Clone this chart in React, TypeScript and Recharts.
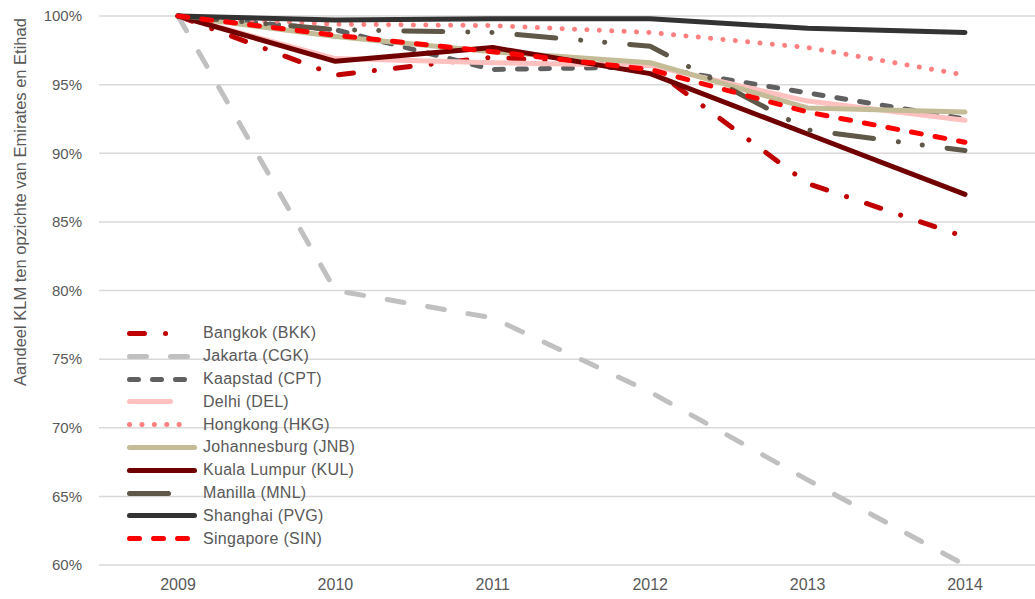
import React from 'react';
import { LineChart, Line, XAxis, YAxis, CartesianGrid } from 'recharts';

const years = ['2009', '2010', '2011', '2012', '2013', '2014'];
const yTicks = [60, 65, 70, 75, 80, 85, 90, 95, 100];

const bkk = [100, 95.7, 97.0, 96.3, 87.8, 83.9];
const cgk = [100, 80.0, 78.0, 72.6, 66.2, 60.0];
const cpt = [100, 99.0, 96.1, 96.3, 94.4, 92.5];
const del = [100, 96.9, 96.6, 96.4, 93.8, 92.4];
const hkg = [100, 99.4, 99.3, 98.8, 97.7, 95.7];
const jnb = [100, 98.5, 97.4, 96.6, 93.3, 93.0];
const kul = [100, 96.7, 97.7, 95.8, 91.4, 87.0];
const mnl = [100, 99.0, 98.8, 97.8, 91.7, 90.2];
const pvg = [100, 99.7, 99.8, 99.8, 99.1, 98.8];
const sin = [100, 98.6, 97.4, 96.1, 93.0, 90.8];

const seriesNames: Record<string, string> = {
  bkk: 'Bangkok (BKK)',
  cgk: 'Jakarta (CGK)',
  cpt: 'Kaapstad (CPT)',
  del: 'Delhi (DEL)',
  hkg: 'Hongkong (HKG)',
  jnb: 'Johannesburg (JNB)',
  kul: 'Kuala Lumpur (KUL)',
  mnl: 'Manilla (MNL)',
  pvg: 'Shanghai (PVG)',
  sin: 'Singapore (SIN)',
};

const seriesValues: Record<string, number[]> = { bkk, cgk, cpt, del, hkg, jnb, kul, mnl, pvg, sin };

const styles = [
  { key: 'bkk', color: '#c00000', dash: '15 21 0.1 21', width: 5, legendEnd: 173 },
  { key: 'cgk', color: '#c0c0c0', dash: '17 24', width: 5, legendEnd: 192 },
  { key: 'cpt', color: '#606060', dash: '9 14', width: 5, legendEnd: 190 },
  { key: 'del', color: '#ffc0c0', dash: undefined, width: 5, legendEnd: 173 },
  { key: 'hkg', color: '#ff8080', dash: '0.1 12.3', width: 5, legendEnd: 190 },
  { key: 'jnb', color: '#c4bc96', dash: undefined, width: 5, legendEnd: 197 },
  { key: 'kul', color: '#700000', dash: undefined, width: 5, legendEnd: 197 },
  { key: 'mnl', color: '#5f5747', dash: '39 25 0.1 24 0.1 25', width: 5, legendEnd: 173 },
  { key: 'pvg', color: '#333333', dash: undefined, width: 5, legendEnd: 197 },
  { key: 'sin', color: '#ff0000', dash: '10 14', width: 5, legendEnd: 190 },
];

const data = years.map((year, i) => {
  const row: Record<string, string | number> = { year };
  Object.keys(seriesValues).forEach((k) => {
    row[k] = seriesValues[k][i];
  });
  return row;
});

const FONT = '"Liberation Sans", Arial, sans-serif';
const TEXT = '#595959';

const LEGEND_LEFT = 125;
const ROW_H = 22.8;

const LegendBox = () => (
  <div
    style={{
      position: 'absolute',
      left: LEGEND_LEFT,
      top: 322,
      fontFamily: FONT,
      fontSize: 16,
      color: TEXT,
      letterSpacing: 0.3,
    }}
  >
    {styles.map((s) => (
      <div key={s.key} style={{ display: 'flex', alignItems: 'center', height: ROW_H, whiteSpace: 'nowrap' }}>
        <svg width={78} height={ROW_H} style={{ display: 'block', flex: 'none' }}>
          <line
            x1={127 + s.width / 2 - LEGEND_LEFT}
            x2={s.legendEnd - s.width / 2 - LEGEND_LEFT}
            y1={ROW_H / 2}
            y2={ROW_H / 2}
            stroke={s.color}
            strokeWidth={s.width}
            strokeDasharray={s.dash}
            strokeLinecap="round"
          />
        </svg>
        <span style={{ lineHeight: '16px' }}>{seriesNames[s.key]}</span>
      </div>
    ))}
  </div>
);

const YLabel = () => (
  <text
    x={20}
    y={202}
    transform="rotate(-90 20 202)"
    textAnchor="middle"
    dominantBaseline="central"
    fill={TEXT}
    fontSize={16.5}
    fontFamily={FONT}
  >
    Aandeel KLM ten opzichte van Emirates en Etihad
  </text>
);

export default function App() {
  return (
    <div style={{ position: 'absolute', left: 0, top: 0, width: 1035, height: 599, overflow: 'hidden', background: '#fff' }}>
      <LineChart width={1044} height={599} data={data} margin={{ top: 16, right: 0, bottom: 0, left: 0 }}>
        <CartesianGrid vertical={false} stroke="#d9d9d9" strokeWidth={1.5} />
        <XAxis
          dataKey="year"
          axisLine={false}
          tickLine={false}
          tickSize={0}
          tickMargin={14}
          height={34}
          padding={{ left: 79, right: 79 }}
          interval={0}
          tick={{ fill: TEXT, fontSize: 16, fontFamily: FONT }}
        />
        <YAxis
          domain={[60, 100]}
          ticks={yTicks}
          interval={0}
          width={99}
          axisLine={false}
          tickLine={false}
          tickSize={0}
          tickMargin={17}
          tickFormatter={(v: number) => `${v}%`}
          tick={{ fill: TEXT, fontSize: 15, fontFamily: FONT }}
          label={{ content: () => <YLabel /> }}
        />
        {styles.map((s) => (
          <Line
            key={s.key}
            type="linear"
            dataKey={s.key}
            name={seriesNames[s.key]}
            stroke={s.color}
            strokeWidth={s.width}
            strokeDasharray={s.dash}
            strokeLinecap="round"
            strokeLinejoin="round"
            dot={false}
            activeDot={false}
            isAnimationActive={false}
          />
        ))}
      </LineChart>
      <LegendBox />
    </div>
  );
}
